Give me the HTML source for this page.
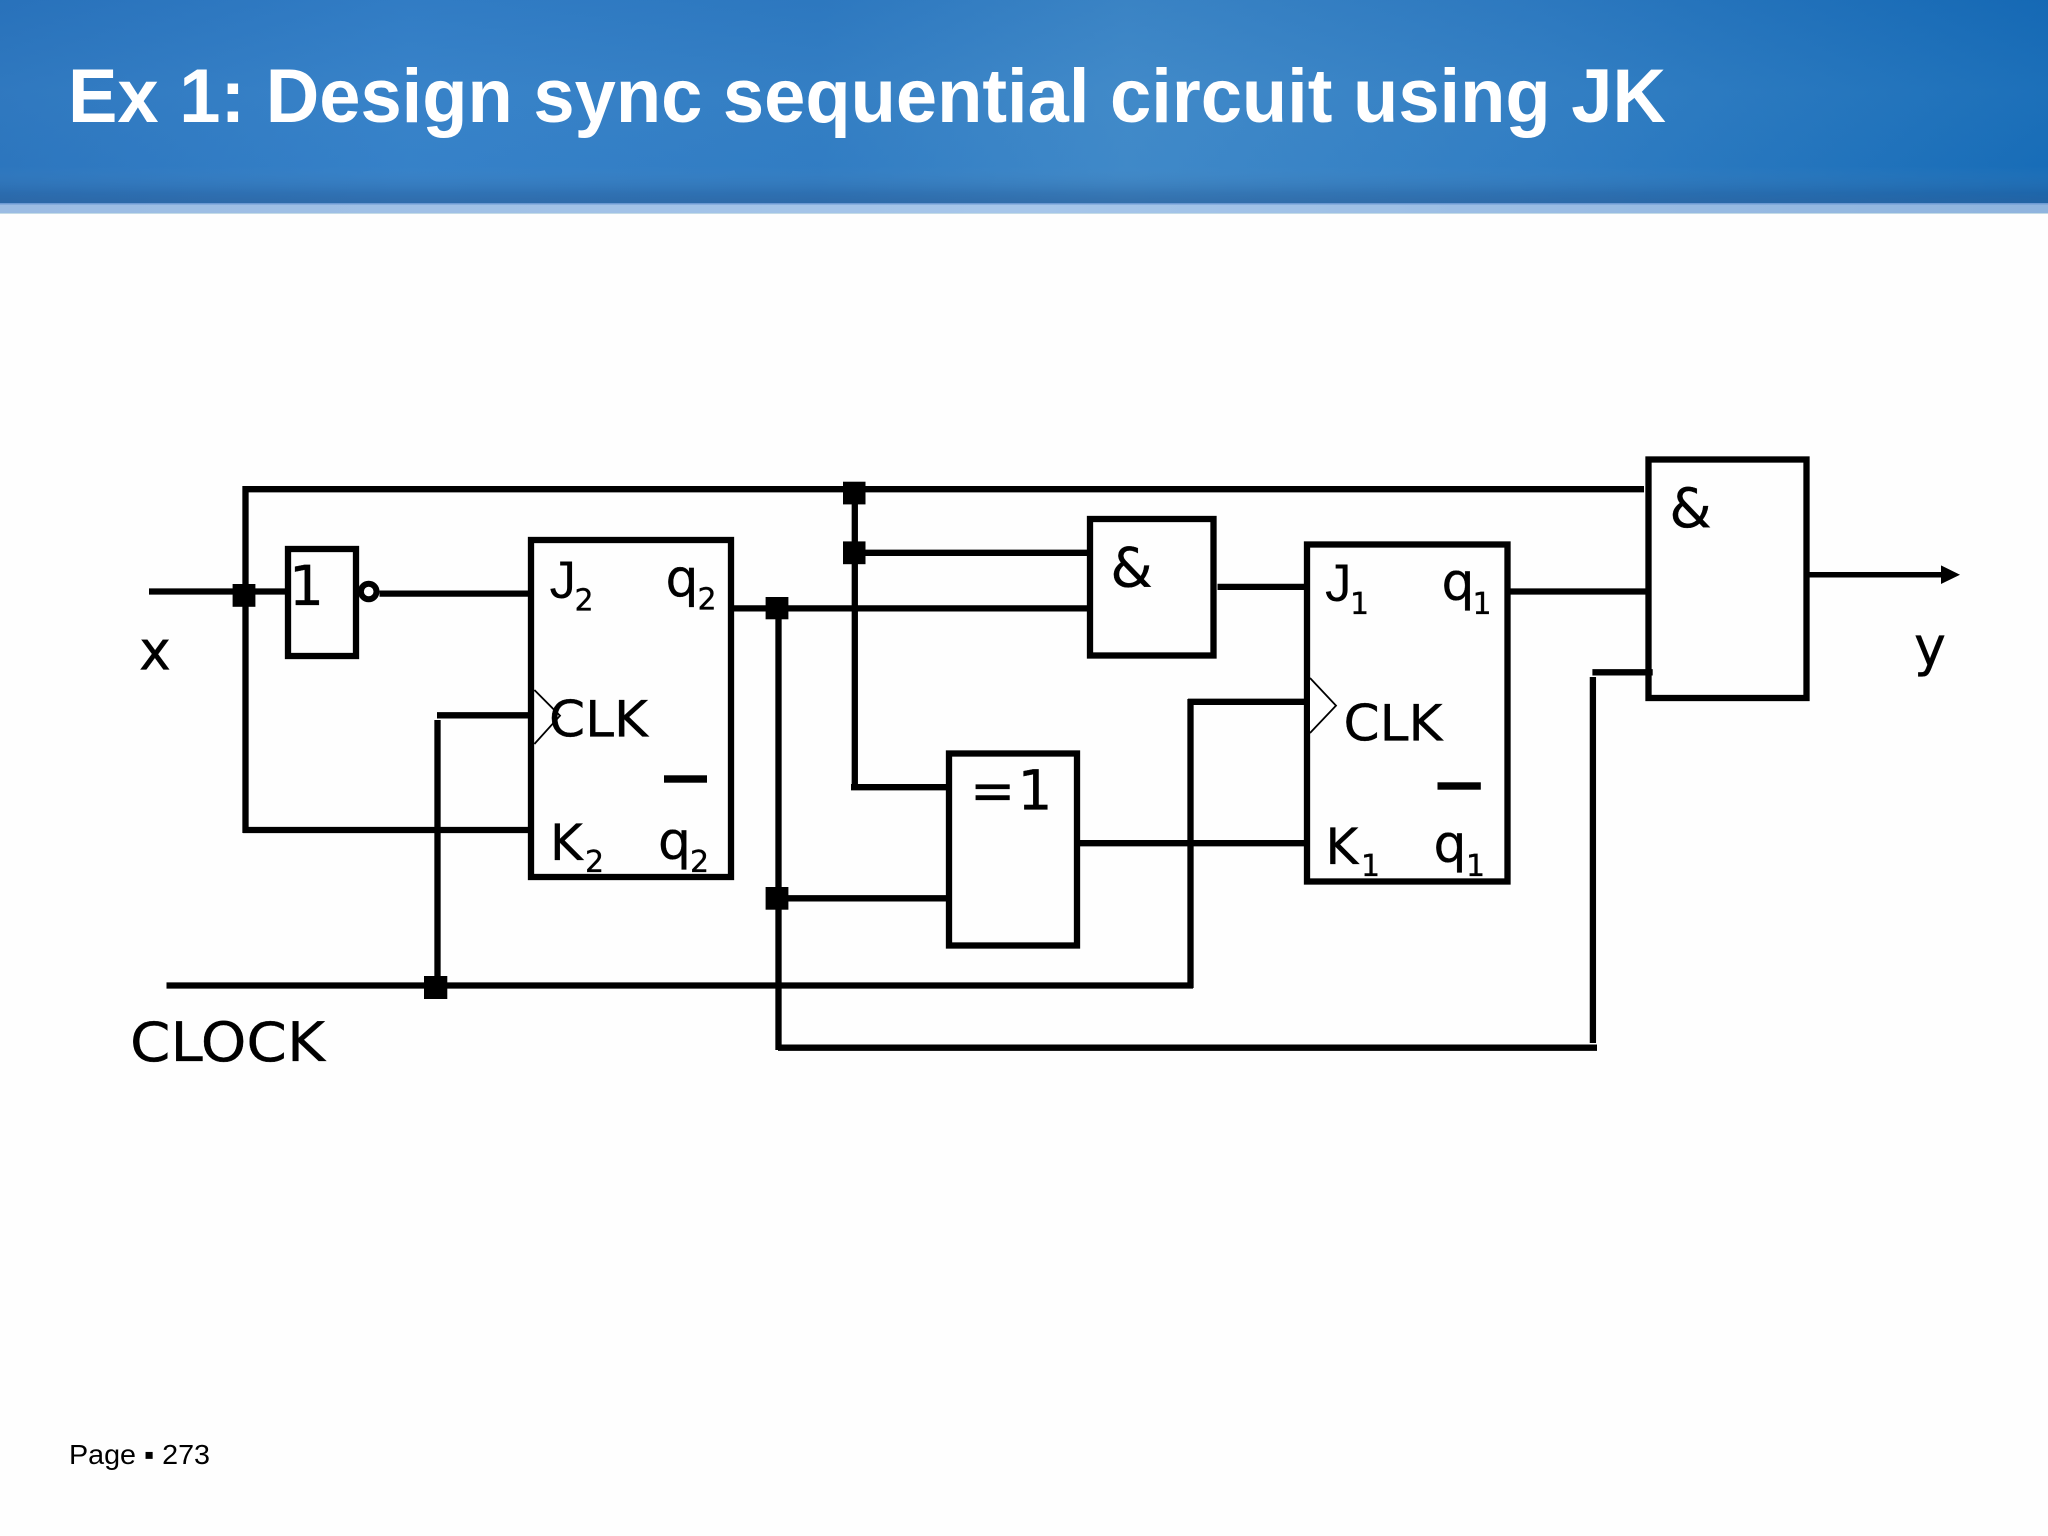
<!DOCTYPE html>
<html>
<head>
<meta charset="utf-8">
<style>
html,body{margin:0;padding:0;background:#fff;}
body{width:2048px;height:1536px;overflow:hidden;position:relative;}
svg{position:absolute;left:0;top:0;display:block;}
.d{font-family:"DejaVu Sans",sans-serif;fill:#000;stroke:#000;stroke-width:.35;}
.l{font-family:"Liberation Sans",sans-serif;fill:#000;}
</style>
</head>
<body>
<svg width="2048" height="1536" viewBox="0 0 2048 1536" xmlns="http://www.w3.org/2000/svg">
<defs>
<linearGradient id="hx" x1="0" x2="1" y1="0" y2="0">
<stop offset="0" stop-color="#2a74bd"/>
<stop offset="0.2" stop-color="#3480c8"/>
<stop offset="0.4" stop-color="#2f7bc2"/>
<stop offset="0.55" stop-color="#3e88c8"/>
<stop offset="0.75" stop-color="#2f7cc2"/>
<stop offset="1" stop-color="#146ab6"/>
</linearGradient>
<linearGradient id="hy" x1="0" x2="0" y1="0" y2="1">
<stop offset="0" stop-color="#1d5fa8" stop-opacity="0.12"/>
<stop offset="0.45" stop-color="#5a9ad0" stop-opacity="0.12"/>
<stop offset="0.82" stop-color="#5a9ad0" stop-opacity="0.05"/>
<stop offset="0.95" stop-color="#2c5f98" stop-opacity="0.4"/>
<stop offset="1" stop-color="#2c5f98" stop-opacity="0.6"/>
</linearGradient>
<linearGradient id="band" x1="0" x2="1" y1="0" y2="0">
<stop offset="0" stop-color="#9bbce3"/>
<stop offset="0.5" stop-color="#a6c6ea"/>
<stop offset="1" stop-color="#8fb4de"/>
</linearGradient>
</defs>

<rect width="2048" height="1536" fill="#fefefe"/>
<rect width="2048" height="203" fill="url(#hx)"/>
<rect width="2048" height="203" fill="url(#hy)"/>
<rect y="203" width="2048" height="11" fill="url(#band)"/>
<rect y="203" width="2048" height="1.500" fill="#6d9ad3"/>
<rect y="213" width="2048" height="1" fill="#c4dbe6"/>
<text x="68" y="122" textLength="1598" lengthAdjust="spacingAndGlyphs" font-family="'Liberation Sans',sans-serif" font-weight="700" font-size="76" fill="#fff">Ex 1: Design sync sequential circuit using JK</text>

<g fill="none" stroke="#000" stroke-width="6.300">
  <!-- boxes -->
  <rect x="288" y="549" width="68" height="107"/>
  <rect x="531" y="540" width="200" height="337"/>
  <rect x="1090" y="519" width="123.500" height="136.500"/>
  <rect x="949" y="753.500" width="128" height="192"/>
  <rect x="1307" y="544.500" width="200.500" height="337"/>
  <rect x="1648.500" y="459.500" width="158" height="238.500"/>

  <!-- wires -->
  <path d="M245 489.200H1644"/>
  <path d="M245.500 486V833"/>
  <path d="M149 591.500H285"/>
  <path d="M379.500 593.600H528"/>
  <path d="M437 715.300H528"/>
  <path d="M437.500 720V986"/>
  <path d="M243 830H528"/>
  <path d="M166.500 985.500H1193"/>
  <path d="M734 608.400H1087"/>
  <path d="M778.500 608V1050"/>
  <path d="M778 898.300H946"/>
  <path d="M778 1047.700H1597"/>
  <path d="M854.800 489V790"/>
  <path d="M851 787.200H952"/>
  <path d="M855 552.800H1087"/>
  <path d="M1217.500 586.900H1305"/>
  <path d="M1190.500 699V988"/>
  <path d="M1188 701.800H1304"/>
  <path d="M1080 843.200H1304"/>
  <path d="M1592.900 677V1043"/>
  <path d="M1592.400 672.300H1652.700"/>
  <path d="M1510 591.500H1646"/>
  <path d="M1809 574.700H1943" stroke-width="5.500"/>

  <!-- not bubble -->
  <circle cx="368.700" cy="591.500" r="7.800" stroke-width="6"/>
</g>

<!-- arrowhead -->
<polygon points="1941,565.400 1960,574.700 1941,584" fill="#000"/>

<!-- junctions -->
<g fill="#000">
  <rect x="232.600" y="584" width="22.800" height="22.800"/>
  <rect x="424" y="976" width="23.300" height="23"/>
  <rect x="765.600" y="597" width="22.800" height="22.300"/>
  <rect x="765.600" y="887" width="22.800" height="22.700"/>
  <rect x="843" y="481.700" width="22.500" height="22.700"/>
  <rect x="843" y="541.400" width="22.500" height="22.800"/>
</g>

<!-- clock triangles -->
<polyline points="534.400,690 560,715.700 534.400,744" fill="none" stroke="#000" stroke-width="1.800"/>
<polyline points="1310,678 1336,705.600 1310,733" fill="#fff" stroke="#000" stroke-width="1.800"/>

<!-- q-bar dashes -->
<rect x="664" y="775.300" width="43" height="7.400" fill="#000"/>
<rect x="1437.500" y="782.300" width="43.300" height="7.400" fill="#000"/>

<!-- labels -->
<text class="d" x="139" y="669.400" font-size="54">x</text>
<text class="d" x="1914" y="665" font-size="54">y</text>
<text class="d" x="130" y="1061" font-size="54" textLength="195" lengthAdjust="spacingAndGlyphs">CLOCK</text>
<text class="d" x="289" y="605" font-size="55">1</text>

<!-- FF2 -->
<text class="l" x="549.500" y="597.800" font-size="53">J</text>
<text class="d" x="574.500" y="610.500" font-size="30">2</text>
<text class="d" x="665.500" y="596" font-size="52">q</text>
<text class="d" x="697.500" y="609.600" font-size="30">2</text>
<text class="d" x="549" y="736.700" font-size="50" textLength="99" lengthAdjust="spacingAndGlyphs">CLK</text>
<text class="d" x="550" y="860" font-size="50">K</text>
<text class="d" x="585" y="871.800" font-size="30">2</text>
<text class="d" x="658" y="858.300" font-size="52">q</text>
<text class="d" x="690" y="871.800" font-size="30">2</text>

<!-- FF1 -->
<text class="l" x="1325" y="601" font-size="53">J</text>
<text class="d" x="1350" y="613.800" font-size="30">1</text>
<text class="d" x="1441.500" y="599.500" font-size="52">q</text>
<text class="d" x="1472.500" y="613.800" font-size="30">1</text>
<text class="d" x="1343.500" y="740.500" font-size="50" textLength="99" lengthAdjust="spacingAndGlyphs">CLK</text>
<text class="d" x="1325.500" y="863.800" font-size="50">K</text>
<text class="d" x="1361" y="876" font-size="30">1</text>
<text class="d" x="1433.500" y="861.500" font-size="52">q</text>
<text class="d" x="1466" y="876" font-size="30">1</text>

<!-- gates -->
<text class="d" x="1110.500" y="586.500" font-size="54">&amp;</text>
<text class="d" x="1669.500" y="527" font-size="54">&amp;</text>
<text class="d" x="970" y="809.500" font-size="54">=</text>
<text class="d" x="1017.500" y="809.500" font-size="55">1</text>

<!-- footer -->
<text class="l" x="69" y="1464" font-size="28" textLength="141" lengthAdjust="spacingAndGlyphs">Page ▪ 273</text>
</svg>
</body>
</html>
